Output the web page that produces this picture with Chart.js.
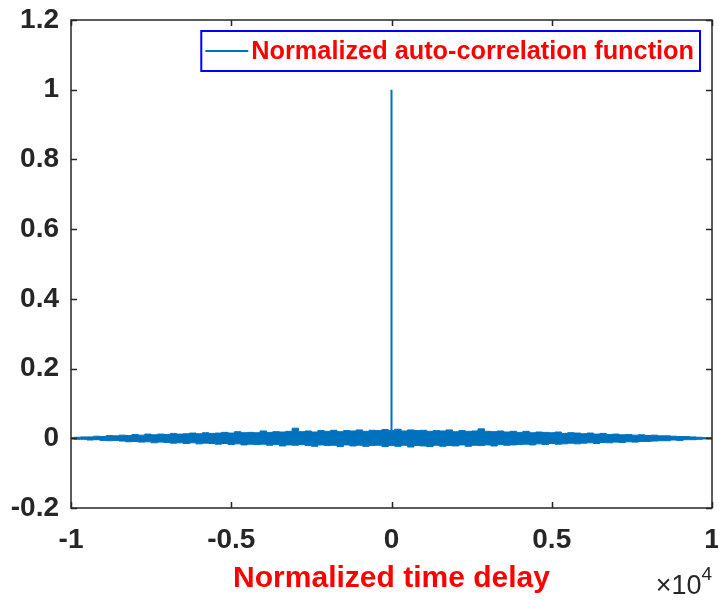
<!DOCTYPE html>
<html>
<head>
<meta charset="utf-8">
<script src="https://cdn.jsdelivr.net/npm/chart.js@4/dist/chart.umd.min.js"></script>
<style>
  body { margin: 0; background: #fff; }
  #wrap { width: 718px; height: 600px; position: relative; }
</style>
</head>
<body>
<div id="wrap"><canvas id="myChart"></canvas></div>
<script>
// lag values (x axis, raw units; axis shows them as x10^4)
const lags = [
  -10000,-9800,-9600,-9400,-9200,-9000,-8800,-8600,-8400,-8200,
  -8000,-7800,-7600,-7400,-7200,-7000,-6800,-6600,-6400,-6200,
  -6000,-5800,-5600,-5400,-5200,-5000,-4800,-4600,-4400,-4200,
  -4000,-3800,-3600,-3400,-3200,-3000,-2800,-2600,-2400,-2200,
  -2000,-1800,-1600,-1400,-1200,-1000,-800,-600,-400,-200,
  0,200,400,600,800,1000,1200,1400,1600,1800,
  2000,2200,2400,2600,2800,3000,3200,3400,3600,3800,
  4000,4200,4400,4600,4800,5000,5200,5400,5600,5800,
  6000,6200,6400,6600,6800,7000,7200,7400,7600,7800,
  8000,8200,8400,8600,8800,9000,9200,9400,9600,9800,
  10000
]
// upper edge of the noise band
const bandTop = [
  0.002,0.003,0.004,0.004,0.006,0.005,0.008,0.007,0.009,0.008,
  0.011,0.009,0.012,0.010,0.012,0.011,0.014,0.012,0.013,0.015,
  0.013,0.016,0.014,0.015,0.017,0.015,0.019,0.016,0.017,0.016,
  0.021,0.017,0.019,0.018,0.020,0.029,0.019,0.021,0.018,0.022,
  0.020,0.023,0.019,0.022,0.021,0.024,0.020,0.023,0.022,0.025,
  0.022,0.026,0.021,0.024,0.022,0.023,0.020,0.022,0.021,0.024,
  0.019,0.022,0.020,0.021,0.027,0.020,0.019,0.021,0.018,0.020,
  0.017,0.020,0.016,0.018,0.017,0.016,0.018,0.014,0.016,0.015,
  0.013,0.015,0.012,0.014,0.011,0.012,0.010,0.011,0.009,0.010,
  0.008,0.009,0.007,0.007,0.006,0.005,0.005,0.004,0.003,0.002,
  0.002
]
// lower edge of the noise band
const bandBottom = [
  -0.002,-0.003,-0.003,-0.005,-0.004,-0.006,-0.007,-0.006,-0.008,-0.010,
  -0.009,-0.011,-0.010,-0.013,-0.011,-0.012,-0.014,-0.013,-0.015,-0.013,
  -0.016,-0.014,-0.015,-0.017,-0.015,-0.018,-0.016,-0.019,-0.017,-0.018,
  -0.017,-0.020,-0.018,-0.022,-0.019,-0.020,-0.018,-0.021,-0.023,-0.019,
  -0.021,-0.020,-0.024,-0.019,-0.022,-0.020,-0.023,-0.021,-0.020,-0.024,
  -0.021,-0.023,-0.020,-0.025,-0.021,-0.022,-0.024,-0.020,-0.023,-0.021,
  -0.022,-0.019,-0.023,-0.020,-0.021,-0.019,-0.022,-0.018,-0.020,-0.019,
  -0.018,-0.017,-0.019,-0.016,-0.018,-0.015,-0.017,-0.016,-0.014,-0.016,
  -0.014,-0.013,-0.015,-0.012,-0.013,-0.011,-0.012,-0.010,-0.011,-0.009,
  -0.009,-0.008,-0.007,-0.007,-0.005,-0.006,-0.004,-0.004,-0.003,-0.002,
  -0.002
]
// the zero-lag peak
const peakLags = [0, 0]
const peakVals = [-0.02, 1]

const legendLabel = 'Normalized auto-correlation function'
const xTitle = 'Normalized time delay'
const lineColor = '#0072BD'
const axisColor = '#262626'
const fontFam = "'Liberation Sans', Arial, Helvetica, sans-serif"

const topPts = lags.map((v, i) => ({x: v, y: bandTop[i]}))
const botPts = lags.map((v, i) => ({x: v, y: bandBottom[i]}))
const peakPts = peakLags.map((v, i) => ({x: v, y: peakVals[i]}))

// box, inward ticks, legend and the x10^4 note (matlab look)
const matlabBits = {
  id: 'matlabBits',
  afterDraw(chart) {
    const ctx = chart.ctx
    const ca = chart.chartArea
    const xs = chart.scales.x
    const ys = chart.scales.y
    ctx.save()
    ctx.strokeStyle = axisColor
    ctx.lineWidth = 1.5
    const tl = 6
    xs.ticks.forEach(t => {
      const px = Math.round(xs.getPixelForValue(t.value)) + 0.5
      ctx.beginPath()
      ctx.moveTo(px, ca.bottom); ctx.lineTo(px, ca.bottom - tl)
      ctx.moveTo(px, ca.top); ctx.lineTo(px, ca.top + tl)
      ctx.stroke()
    })
    ys.ticks.forEach(t => {
      const py = Math.round(ys.getPixelForValue(t.value)) + 0.5
      ctx.beginPath()
      ctx.moveTo(ca.left, py); ctx.lineTo(ca.left + tl, py)
      ctx.moveTo(ca.right, py); ctx.lineTo(ca.right - tl, py)
      ctx.stroke()
    })
    ctx.strokeRect(ca.left, ca.top, ca.right - ca.left, ca.bottom - ca.top)

    // legend
    ctx.font = 'bold 25.3px ' + fontFam
    const tw = ctx.measureText(legendLabel).width
    const w = tw + 56
    const h = 40
    const lx = ca.right - 12 - w
    const ly = ca.top + 11
    ctx.fillStyle = '#fff'
    ctx.fillRect(lx, ly, w, h)
    ctx.strokeStyle = '#0000FF'
    ctx.lineWidth = 2
    ctx.strokeRect(lx, ly, w, h)
    ctx.strokeStyle = lineColor
    ctx.lineWidth = 2
    ctx.beginPath()
    ctx.moveTo(lx + 4, ly + h / 2); ctx.lineTo(lx + 47, ly + h / 2)
    ctx.stroke()
    ctx.fillStyle = '#FF0000'
    ctx.textBaseline = 'middle'
    ctx.textAlign = 'left'
    ctx.fillText(legendLabel, lx + 50, ly + h / 2 + 1)

    // exponent label
    ctx.fillStyle = axisColor
    ctx.textBaseline = 'alphabetic'
    ctx.font = '19px ' + fontFam
    ctx.textAlign = 'right'
    const sup = '4'
    const supW = ctx.measureText(sup).width
    ctx.fillText(sup, ca.right, 580)
    ctx.font = '27px ' + fontFam
    ctx.fillText('\u00d710', ca.right - supW, 594)
    ctx.restore()
  }
}

const ctx = document.getElementById('myChart')
new Chart(ctx, {
  type: 'line',
  data: {
    datasets: [{
      label: legendLabel,
      data: topPts,
      borderColor: lineColor,
      backgroundColor: lineColor,
      borderWidth: 1,
      pointRadius: 0,
      stepped: 'middle',
      fill: '+1'
    }, {
      label: 'lower',
      data: botPts,
      borderColor: lineColor,
      borderWidth: 1,
      pointRadius: 0,
      stepped: 'middle',
      fill: false
    }, {
      label: 'peak',
      data: peakPts,
      borderColor: lineColor,
      borderWidth: 2,
      pointRadius: 0,
      fill: false
    }]
  },
  options: {
    responsive: true,
    maintainAspectRatio: false,
    animation: false,
    layout: { padding: { top: 20, right: 6, left: 0, bottom: 0 } },
    plugins: {
      legend: { display: false },
      tooltip: { enabled: false }
    },
    scales: {
      x: {
        type: 'linear',
        min: -10000,
        max: 10000,
        border: { display: false },
        grid: { display: false, drawTicks: false },
        ticks: {
          stepSize: 5000,
          padding: 15,
          color: axisColor,
          font: { family: fontFam, size: 28, weight: 'bold' },
          maxRotation: 0,
          callback: v => String(v / 10000)
        },
        title: {
          display: true,
          text: xTitle,
          color: '#FF0000',
          font: { family: fontFam, size: 30, weight: 'bold' },
          padding: { top: 0, bottom: 3 }
        },
        afterFit(scale) {
          scale.height = 92
          scale.paddingLeft = 0
          scale.paddingRight = 0
        }
      },
      y: {
        min: -0.2,
        max: 1.2,
        border: { display: false },
        grid: { display: false, drawTicks: false },
        ticks: {
          stepSize: 0.2,
          padding: 12,
          color: axisColor,
          font: { family: fontFam, size: 28, weight: 'bold' },
          callback: v => String(Number(v.toFixed(1)))
        },
        afterFit(scale) {
          scale.width = 71
          scale.paddingTop = 0
          scale.paddingBottom = 0
        }
      }
    }
  },
  plugins: [matlabBits]
})
</script>
</body>
</html>
